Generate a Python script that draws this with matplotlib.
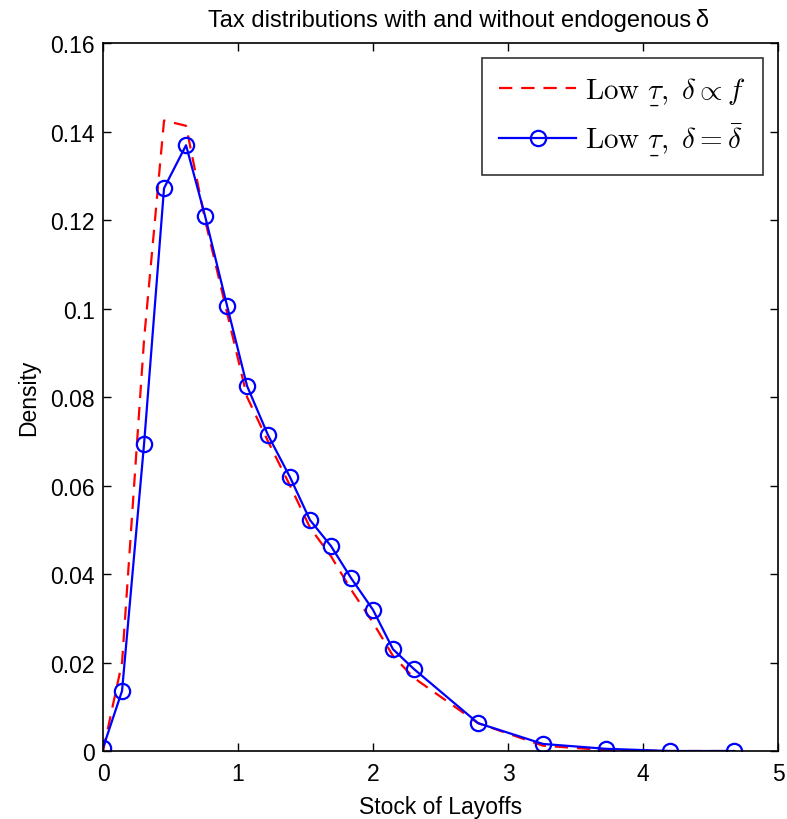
import matplotlib
matplotlib.use("Agg")
import matplotlib.pyplot as plt

plt.rcParams['font.family'] = ['Liberation Sans', 'DejaVu Sans']
plt.rcParams['mathtext.fontset'] = 'cm'

# Data
x_blue = [0.0, 0.141, 0.304, 0.452, 0.615, 0.756, 0.919, 1.067, 1.222, 1.385,
          1.533, 1.689, 1.837, 2.0, 2.148, 2.304, 2.778, 3.259, 3.726, 4.2, 4.674]
y_blue = [0.0007, 0.0136, 0.0694, 0.1272, 0.1369, 0.1209, 0.1006, 0.0825, 0.0714, 0.0619,
          0.0522, 0.0463, 0.0391, 0.0319, 0.0230, 0.0185, 0.0063, 0.0016, 0.0005, 0.0, 0.0]

x_red = [0.0, 0.141, 0.304, 0.452, 0.615, 0.756, 0.919, 1.067, 1.222, 1.385,
         1.533, 1.689, 1.837, 2.0, 2.148, 2.304, 2.778, 3.259, 3.726, 4.2, 4.674]
y_red = [0.0, 0.020, 0.093, 0.1425, 0.1413, 0.1200, 0.0990, 0.0800, 0.0700, 0.0600,
         0.0505, 0.0440, 0.0365, 0.0290, 0.0215, 0.0165, 0.0063, 0.0012, 0.0002, 0.0, 0.0]

xticks = [0, 1, 2, 3, 4, 5]
yticks = [0, 0.02, 0.04, 0.06, 0.08, 0.1, 0.12, 0.14, 0.16]
ytick_labels = ['0', '0.02', '0.04', '0.06', '0.08', '0.1', '0.12', '0.14', '0.16']

fig = plt.figure(figsize=(7.87, 8.20), dpi=100)
ax = fig.add_axes([0.1309, 0.0829, 0.8577, 0.8634])

ax.plot(x_red, y_red, color='#ff0000', linestyle=(0, (6, 4)), linewidth=1.6,
        label=r'$\mathrm{Low}\ \underset{\_}{\tau},\ \delta \propto f$')
ax.plot(x_blue, y_blue, color='#0000ff', linewidth=1.6, marker='o', markersize=11,
        markerfacecolor='none', markeredgewidth=1.6,
        label=r'$\mathrm{Low}\ \underset{\_}{\tau},\ \delta = \bar{\delta}$')

ax.set_xlim(0, 5)
ax.set_ylim(0, 0.16)
ax.set_xticks(xticks)
ax.set_yticks(yticks)
ax.set_yticklabels(ytick_labels)
ax.tick_params(direction='in', length=6, width=1, labelsize=16.5, top=True, right=True)
ax.tick_params(axis='x', pad=8)
ax.tick_params(axis='y', pad=6)
for s in ax.spines.values():
    s.set_linewidth(1.2)

ax.set_xlabel('Stock of Layoffs', fontsize=16.5, labelpad=7)
ax.set_ylabel('Density', fontsize=16.5, labelpad=7)
ax.set_title('Tax distributions with and without endogenous\u2009δ', fontsize=17, pad=12,
             x=0.526)

leg = ax.legend(loc='upper right', fontsize=21, frameon=True, fancybox=False,
                edgecolor='black', handlelength=2.65, borderpad=0.6, labelspacing=0.42,
                handletextpad=0.3, borderaxespad=0.5)
leg.get_frame().set_linewidth(1.2)

fig.savefig('out.png', dpi=100, facecolor='white')
